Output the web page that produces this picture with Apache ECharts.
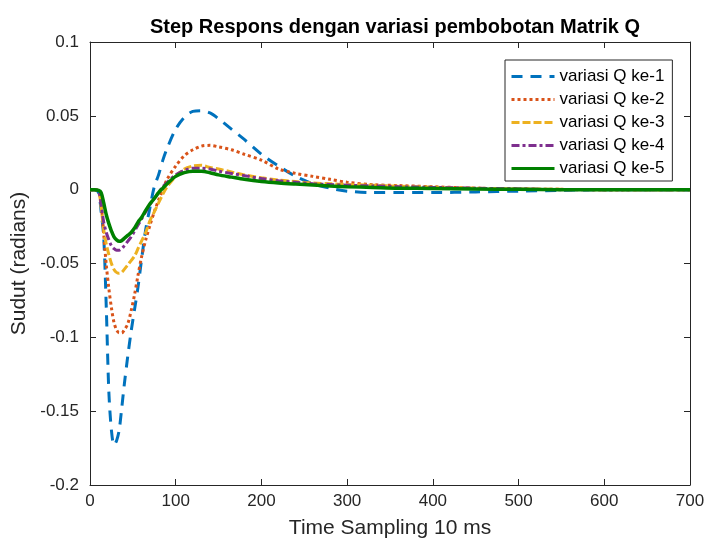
<!DOCTYPE html>
<html>
<head>
<meta charset="utf-8">
<script src="https://cdn.jsdelivr.net/npm/echarts@6/dist/echarts.min.js"></script>
<style>
  html, body { margin: 0; padding: 0; background: #fff; }
  #chart { width: 708px; height: 541px; }
</style>
</head>
<body>
<div id="chart"></div>
<script>
// time samples (x) shared by every series
const times = [0, 5, 10, 13, 16, 19, 22, 25, 28, 31, 34, 37, 40, 44, 48, 52, 56, 60, 65, 70, 75, 80, 85, 90,
  100, 110, 120, 130, 140, 150, 165, 180, 200, 220, 240, 260, 280, 300, 330, 360, 400, 450, 500, 550, 600, 650, 700]

const q1 = [0, 0, -0.002, -0.015, -0.032, -0.080, -0.137, -0.163, -0.173, -0.170, -0.163, -0.148, -0.132, -0.113, -0.096, -0.081, -0.066, -0.048, -0.027, -0.012, 0.002, 0.010, 0.020, 0.028,
  0.041, 0.049, 0.053, 0.0535, 0.052, 0.048, 0.041, 0.034, 0.024, 0.016, 0.009, 0.004, 0.001, -0.001, -0.002, -0.002, -0.002, -0.0015, -0.001, -0.0005, 0, 0, 0]
const q2 = [0, 0, -0.001, -0.010, -0.030, -0.051, -0.067, -0.080, -0.090, -0.095, -0.097, -0.097, -0.095, -0.091, -0.082, -0.071, -0.058, -0.046, -0.034, -0.024, -0.015, -0.007, 0.000, 0.007,
  0.016, 0.023, 0.027, 0.0295, 0.030, 0.029, 0.027, 0.024, 0.020, 0.014, 0.011, 0.009, 0.007, 0.005, 0.0034, 0.0028, 0.002, 0.001, 0.0005, 0.0002, 0, 0, 0]
const q3 = [0, 0, -0.001, -0.012, -0.027, -0.037, -0.044, -0.050, -0.054, -0.056, -0.0566, -0.056, -0.054, -0.051, -0.048, -0.045, -0.040, -0.035, -0.029, -0.021, -0.015, -0.009, -0.003, 0.002,
  0.009, 0.014, 0.016, 0.0165, 0.015, 0.014, 0.012, 0.010, 0.008, 0.0065, 0.0055, 0.0045, 0.004, 0.0035, 0.003, 0.0023, 0.0017, 0.001, 0.0005, 0.0002, 0, 0, 0]
const q4 = [0, 0, -0.001, -0.010, -0.022, -0.029, -0.034, -0.038, -0.040, -0.041, -0.041, -0.040, -0.038, -0.035, -0.032, -0.028, -0.024, -0.020, -0.015, -0.010, -0.006, -0.002, 0.002, 0.005,
  0.010, 0.013, 0.0145, 0.0145, 0.014, 0.0125, 0.011, 0.0095, 0.0075, 0.006, 0.005, 0.004, 0.0035, 0.003, 0.0025, 0.002, 0.0015, 0.001, 0.0005, 0, 0, 0, 0]
const q5 = [0, 0, -0.0005, -0.002, -0.009, -0.017, -0.023, -0.028, -0.032, -0.034, -0.035, -0.0345, -0.033, -0.031, -0.029, -0.026, -0.022, -0.019, -0.014, -0.0095, -0.006, -0.002, 0.001, 0.004,
  0.009, 0.0115, 0.0125, 0.0125, 0.0115, 0.010, 0.0085, 0.007, 0.0055, 0.0045, 0.0038, 0.0032, 0.0025, 0.002, 0.0015, 0.001, 0.0008, 0.0005, 0.0002, 0, 0, 0, 0]

const seriesNames = ['variasi Q ke-1', 'variasi Q ke-2', 'variasi Q ke-3', 'variasi Q ke-4', 'variasi Q ke-5']
const seriesValues = [q1, q2, q3, q4, q5]
const colors = ['#0072BD', '#D95319', '#EDB120', '#7E2F8E', '#008000']
const dashes = [[11, 8], [3, 3], [8, 3], [8, 3, 3, 3], 'solid']
const widths = [3, 3, 3, 3, 3.5]

const font = 'Liberation Sans, Arial, sans-serif'
const axisColor = '#262626'

const chart = echarts.init(document.getElementById('chart'))

// top / right axes only close the box (ticks inside, no labels)
const boxAxis = (pos, isX) => ({
  type: 'value',
  position: pos,
  min: isX ? 0 : -0.2,
  max: isX ? 700 : 0.1,
  interval: isX ? 100 : 0.05,
  axisLine: { show: true, onZero: false, lineStyle: { color: axisColor, width: 1 } },
  axisTick: { show: true, inside: true, length: 6, lineStyle: { color: axisColor } },
  axisLabel: { show: false },
  splitLine: { show: false }
})

const option = {
  animation: false,
  backgroundColor: '#fff',
  color: colors,
  title: {
    text: 'Step Respons dengan variasi pembobotan Matrik Q',
    left: 390,
    textAlign: 'center',
    top: 12,
    textStyle: { fontFamily: font, fontSize: 20, fontWeight: 'bold', color: '#000' }
  },
  legend: {
    orient: 'vertical',
    left: 505,
    top: 60,
    padding: [8, 8, 4, 5],
    itemWidth: 43,
    itemHeight: 14,
    itemGap: 6,
    backgroundColor: '#fff',
    borderColor: axisColor,
    borderWidth: 1,
    itemStyle: { opacity: 0 },
    lineStyle: { width: 3 },
    textStyle: { fontFamily: font, fontSize: 17, color: '#000' },
    data: seriesNames
  },
  grid: { left: 90, right: 18, top: 42, bottom: 56, containLabel: false, outerBoundsMode: 'none' },
  xAxis: [
    {
      type: 'value',
      min: 0,
      max: 700,
      interval: 100,
      name: 'Time Sampling 10 ms',
      nameLocation: 'middle',
      nameGap: 33,
      nameTextStyle: { fontFamily: font, fontSize: 21, color: axisColor },
      axisLine: { show: true, onZero: false, lineStyle: { color: axisColor, width: 1 } },
      axisTick: { show: true, inside: true, length: 6, lineStyle: { color: axisColor } },
      axisLabel: { fontFamily: font, fontSize: 17, color: axisColor, margin: 8 },
      splitLine: { show: false }
    },
    boxAxis('top', true)
  ],
  yAxis: [
    {
      type: 'value',
      min: -0.2,
      max: 0.1,
      interval: 0.05,
      name: 'Sudut (radians)',
      nameLocation: 'middle',
      nameGap: 58,
      nameTextStyle: { fontFamily: font, fontSize: 21, color: axisColor },
      axisLine: { show: true, onZero: false, lineStyle: { color: axisColor, width: 1 } },
      axisTick: { show: true, inside: true, length: 6, lineStyle: { color: axisColor } },
      axisLabel: { fontFamily: font, fontSize: 17, color: axisColor, margin: 11 },
      splitLine: { show: false }
    },
    boxAxis('right', false)
  ],
  series: seriesValues.map((vals, i) => ({
    name: seriesNames[i],
    type: 'line',
    xAxisIndex: 0,
    yAxisIndex: 0,
    smooth: 0.3,
    symbol: 'none',
    z: 2 + i,
    lineStyle: { color: colors[i], width: widths[i], type: dashes[i] },
    data: times.map((t, k) => [t, vals[k]])
  }))
}

chart.setOption(option)
</script>
</body>
</html>
